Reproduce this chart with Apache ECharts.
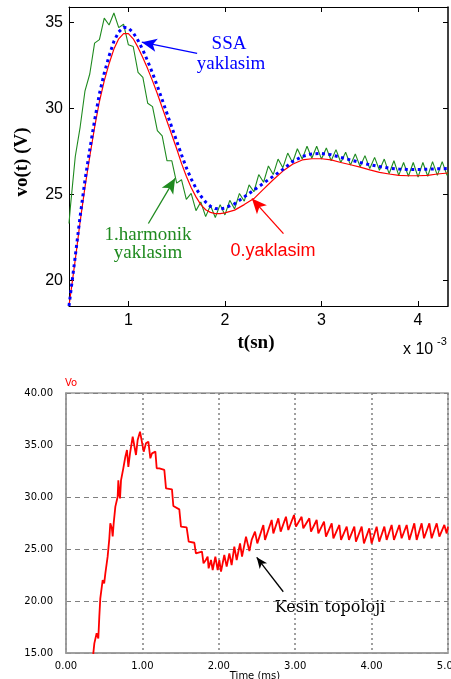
<!DOCTYPE html>
<html>
<head>
<meta charset="utf-8">
<script src="https://cdn.jsdelivr.net/npm/echarts@6/dist/echarts.min.js"></script>
<style>
html, body { margin: 0; padding: 0; background: #fff; }
#chart { width: 451px; height: 679px; }
</style>
</head>
<body>
<div id="chart"></div>
<script>
// ust grafik: zaman (x 10^-3 sn), kirmizi ve mavi ayni zaman noktalarinda okundu
const tOrtak = [0.385, 0.45, 0.50, 0.55, 0.60, 0.65, 0.70, 0.75, 0.80, 0.85, 0.90, 0.95, 1.00,
  1.05, 1.10, 1.15, 1.20, 1.25, 1.30, 1.35, 1.40, 1.45, 1.50, 1.55, 1.60, 1.65, 1.70, 1.75,
  1.80, 1.85, 1.90, 1.95, 2.00, 2.10, 2.20, 2.30, 2.40, 2.50, 2.60, 2.70, 2.80, 2.90, 3.00,
  3.10, 3.20, 3.30, 3.40, 3.50, 3.60, 3.70, 3.80, 3.90, 4.00, 4.10, 4.20, 4.31]

// 0.yaklasim (kirmizi)
const sifirYaklasim = [18.5, 21.2, 23.4, 25.4, 27.2, 28.9, 30.4, 31.6, 32.6, 33.45, 34.05, 34.35, 34.35,
  34.05, 33.55, 32.95, 32.3, 31.6, 30.85, 30.05, 29.25, 28.45, 27.65, 26.8, 26.05, 25.4, 24.85, 24.4,
  24.1, 23.95, 23.88, 23.88, 23.92, 24.08, 24.4, 24.75, 25.3, 25.85, 26.35, 26.75, 27.0, 27.07, 27.07,
  27.0, 26.85, 26.72, 26.58, 26.42, 26.28, 26.18, 26.1, 26.08, 26.08, 26.1, 26.18, 26.24]

// SSA yaklasim (mavi noktali)
const ssaYaklasim = [18.5, 21.4, 23.7, 25.8, 27.6, 29.3, 30.85, 32.05, 33.05, 33.9, 34.45, 34.72, 34.68,
  34.4, 33.95, 33.4, 32.75, 32.05, 31.3, 30.5, 29.7, 28.9, 28.1, 27.3, 26.55, 25.9, 25.35, 24.9,
  24.55, 24.3, 24.17, 24.15, 24.2, 24.45, 24.85, 25.25, 25.65, 26.05, 26.45, 26.9, 27.2, 27.35, 27.38,
  27.3, 27.15, 27.0, 26.85, 26.72, 26.62, 26.52, 26.47, 26.44, 26.44, 26.46, 26.48, 26.5]

// 1.harmonik yaklasim (yesil, dalgalanmali)
const harmonikYaklasim = [
  [0.385, 23.3], [0.40, 24.3], [0.45, 27.2], [0.50, 28.9], [0.55, 31.0], [0.60, 32.0], [0.65, 33.8],
  [0.70, 34.0], [0.75, 35.25], [0.80, 34.85], [0.85, 35.55], [0.90, 34.7], [0.95, 34.9], [1.00, 33.7],
  [1.05, 33.6], [1.10, 32.1], [1.15, 31.8], [1.20, 30.3], [1.25, 30.1], [1.30, 28.7], [1.35, 28.4],
  [1.40, 26.95], [1.45, 26.95], [1.50, 25.65], [1.55, 25.85], [1.60, 24.7], [1.65, 25.05], [1.70, 24.05],
  [1.75, 24.55], [1.80, 23.7], [1.85, 24.35], [1.90, 23.65], [1.95, 24.4], [2.00, 23.8], [2.05, 24.65],
  [2.10, 24.15], [2.15, 25.05], [2.20, 24.6], [2.25, 25.55], [2.30, 25.15], [2.35, 26.15], [2.40, 25.7],
  [2.45, 26.65], [2.50, 26.15], [2.55, 27.05], [2.60, 26.55], [2.65, 27.4], [2.70, 26.85], [2.75, 27.65],
  [2.80, 27.05], [2.85, 27.8], [2.90, 27.1], [2.95, 27.8], [3.00, 27.05], [3.05, 27.7], [3.10, 26.95],
  [3.15, 27.6], [3.20, 26.85], [3.25, 27.45], [3.30, 26.7], [3.35, 27.35], [3.40, 26.6], [3.45, 27.25],
  [3.50, 26.5], [3.55, 27.15], [3.60, 26.4], [3.65, 27.05], [3.70, 26.2], [3.75, 26.95], [3.80, 26.1],
  [3.85, 26.85], [3.90, 26.05], [3.95, 26.85], [4.00, 26.0], [4.05, 26.85], [4.10, 26.05], [4.15, 26.9],
  [4.20, 26.1], [4.25, 26.9], [4.30, 26.1], [4.31, 26.3]
]

// alt grafik: Kesin topoloji (PSIM), zaman ms
const kesinTopoloji = [
  [0.35, 14.0], [0.358, 15.0], [0.371, 15.93], [0.39, 15.77], [0.401, 16.9], [0.423, 16.4], [0.436, 18.5],
  [0.449, 20.26], [0.471, 20.4], [0.48, 22.0], [0.50, 21.7], [0.515, 22.66], [0.53, 22.5], [0.545, 24.26],
  [0.567, 26.0], [0.58, 27.47], [0.60, 27.0], [0.611, 26.2], [0.624, 27.47], [0.646, 29.07], [0.66, 29.0],
  [0.676, 30.03], [0.685, 31.6], [0.697, 30.3], [0.707, 29.87], [0.72, 31.6], [0.75, 32.76], [0.777, 33.88],
  [0.798, 34.52], [0.816, 32.9], [0.838, 34.2], [0.873, 35.8], [0.894, 35.96], [0.916, 34.04], [0.938, 35.48],
  [0.969, 36.28], [0.995, 36.28], [1.017, 34.36], [1.047, 35.16], [1.078, 35.32], [1.104, 33.72], [1.126, 34.2],
  [1.147, 34.36], [1.17, 34.36], [1.187, 32.76], [1.222, 32.76], [1.287, 32.6], [1.309, 30.83], [1.387, 30.74],
  [1.405, 29.13], [1.483, 28.81], [1.505, 27.15], [1.579, 27.08], [1.606, 25.7], [1.68, 25.6], [1.70, 24.58],
  [1.78, 24.74], [1.80, 23.62], [1.83, 23.94], [1.854, 24.26], [1.867, 23.14], [1.898, 23.94], [1.92, 22.98],
  [1.955, 24.26], [1.985, 22.98], [2.007, 23.94], [2.029, 22.82], [2.072, 24.42], [2.103, 23.3], [2.138, 24.58],
  [2.168, 23.46], [2.203, 25.22], [2.234, 23.94], [2.278, 25.54], [2.304, 24.26], [2.356, 26.19], [2.40, 24.8],
  [2.43, 25.87], [2.474, 26.67], [2.504, 25.54], [2.583, 27.3], [2.605, 25.87], [2.692, 27.79], [2.714, 26.5],
  [2.779, 27.95], [2.81, 26.67], [2.879, 28.1], [2.91, 26.83], [2.984, 28.27], [3.01, 27.15], [3.084, 28.1],
  [3.106, 26.99], [3.185, 27.95], [3.207, 26.67], [3.281, 27.79], [3.303, 26.5], [3.377, 27.63], [3.403, 26.19],
  [3.478, 27.47], [3.50, 26.03], [3.578, 27.31], [3.60, 25.87], [3.674, 27.15], [3.704, 25.87], [3.774, 27.15],
  [3.795, 25.7], [3.87, 27.15], [3.90, 25.54], [3.97, 26.99], [4.00, 25.54], [4.066, 27.15], [4.10, 25.7],
  [4.167, 27.15], [4.197, 25.87], [4.262, 27.31], [4.293, 25.87], [4.363, 27.31], [4.393, 26.03], [4.459, 27.31],
  [4.494, 25.87], [4.559, 27.47], [4.59, 25.87], [4.655, 27.47], [4.686, 26.03], [4.756, 27.47], [4.786, 26.03],
  [4.852, 27.47], [4.887, 26.19], [4.952, 27.31], [4.983, 26.5], [5.0, 27.15]
]

const ustXTikler = [1, 2, 3, 4]
const ustYTikler = [20, 25, 30, 35]

// ok uclari (veri koordinatinda): [kuyruk, uc]
const okSSA = [[1.712, 33.2], [1.139, 33.85]]
const okHarmonik = [[1.207, 23.3], [1.484, 25.93]]
const okSifir = [[2.606, 22.71], [2.279, 24.75]]
const okKesin = [[2.844, 20.89], [2.496, 24.2]]

const zip = (xs, ys) => xs.map((x, i) => [x, ys[i]])

const ok = (uclar, renk, boyut) => ({
  silent: true,
  animation: false,
  symbol: ['none', 'arrow'],
  symbolSize: boyut,
  label: { show: false },
  lineStyle: { color: renk, width: 1.3, type: 'solid' },
  data: [[{ coord: uclar[0] }, { coord: uclar[1] }]]
})

const siyah = '#000'
const ustEksenX = (pos, etiket) => ({
  gridIndex: 0,
  type: 'value',
  position: pos,
  min: 0.385,
  max: 4.31,
  axisLine: { show: true, onZero: false, lineStyle: { color: siyah, width: 1 } },
  axisTick: { show: true, inside: true, length: 5, customValues: ustXTikler, lineStyle: { color: siyah } },
  axisLabel: {
    show: etiket,
    customValues: ustXTikler,
    color: siyah,
    fontSize: 16,
    fontFamily: 'Liberation Sans',
    margin: 7
  },
  splitLine: { show: false }
})
const ustEksenY = (pos, etiket) => ({
  gridIndex: 0,
  type: 'value',
  position: pos,
  min: 18.5,
  max: 35.9,
  axisLine: { show: true, onZero: false, lineStyle: { color: siyah, width: pos === 'right' ? 1.5 : 1 } },
  axisTick: { show: true, inside: true, length: 5, customValues: ustYTikler, lineStyle: { color: siyah } },
  axisLabel: {
    show: etiket,
    customValues: ustYTikler,
    color: siyah,
    fontSize: 16,
    fontFamily: 'Liberation Sans',
    margin: 6
  },
  splitLine: { show: false }
})

const chart = echarts.init(document.getElementById('chart'), null, { renderer: 'canvas' })

chart.setOption({
  animation: false,
  backgroundColor: '#fff',
  grid: [
    { left: 69, top: 7, width: 379, height: 299, containLabel: false, outerBoundsMode: 'none' },
    { left: 66, top: 393, width: 382, height: 260, show: true, borderColor: '#9a9a9a', borderWidth: 1.5,
      containLabel: false, outerBoundsMode: 'none' }
  ],
  xAxis: [
    ustEksenX('bottom', true),
    ustEksenX('top', false),
    {
      gridIndex: 1,
      type: 'value',
      min: 0,
      max: 5,
      interval: 1,
      axisLine: { show: true, onZero: false, lineStyle: { color: '#9a9a9a', width: 1.5 } },
      axisTick: { show: false },
      axisLabel: {
        color: siyah,
        fontSize: 10,
        fontFamily: 'DejaVu Sans',
        margin: 8,
        formatter: (v) => v.toFixed(2)
      },
      splitLine: { show: true, lineStyle: { color: '#808080', type: [2, 3], width: 1.5 } }
    }
  ],
  yAxis: [
    ustEksenY('left', true),
    ustEksenY('right', false),
    {
      gridIndex: 1,
      type: 'value',
      min: 15,
      max: 40,
      interval: 5,
      axisLine: { show: true, onZero: false, lineStyle: { color: '#9a9a9a', width: 1.5 } },
      axisTick: { show: false },
      axisLabel: {
        color: siyah,
        fontSize: 10,
        fontFamily: 'DejaVu Sans',
        margin: 13,
        formatter: (v) => v.toFixed(2)
      },
      splitLine: { show: true, lineStyle: { color: '#808080', type: [5, 4], width: 1 } }
    }
  ],
  series: [
    {
      name: '1.harmonik yaklasim',
      type: 'line',
      xAxisIndex: 0,
      yAxisIndex: 0,
      data: harmonikYaklasim,
      symbol: 'none',
      lineStyle: { color: '#1f8a1f', width: 1.1 },
      markLine: ok(okHarmonik, '#1f8a1f', [10, 15])
    },
    {
      name: '0.yaklasim',
      type: 'line',
      xAxisIndex: 0,
      yAxisIndex: 0,
      data: zip(tOrtak, sifirYaklasim),
      symbol: 'none',
      lineStyle: { color: '#ff0000', width: 1.2 },
      markLine: ok(okSifir, '#ff0000', [10, 15])
    },
    {
      name: 'SSA yaklasim',
      type: 'line',
      xAxisIndex: 0,
      yAxisIndex: 0,
      data: zip(tOrtak, ssaYaklasim),
      symbol: 'none',
      lineStyle: { color: '#0000ff', width: 3, type: [3, 3.5], cap: 'butt' },
      markLine: ok(okSSA, '#0000ff', [10, 15])
    },
    {
      name: 'Kesin topoloji',
      type: 'line',
      xAxisIndex: 2,
      yAxisIndex: 2,
      data: kesinTopoloji,
      symbol: 'none',
      lineStyle: { color: '#ff0000', width: 1.8 },
      markLine: ok(okKesin, '#000', [7, 11])
    }
  ],
  graphic: [
    { type: 'text', x: 22, y: 162, rotation: Math.PI / 2,
      style: { text: 'vo(t) (V)', font: 'bold 19px "Liberation Serif"', fill: siyah, textAlign: 'center', textVerticalAlign: 'middle' } },
    { type: 'text', x: 256, y: 343,
      style: { text: 't(sn)', font: 'bold 19px "Liberation Serif"', fill: siyah, textAlign: 'center', textVerticalAlign: 'middle' } },
    { type: 'text', x: 403, y: 350,
      style: { text: 'x 10', font: '16px "Liberation Sans"', fill: siyah, textAlign: 'left', textVerticalAlign: 'middle' } },
    { type: 'text', x: 437, y: 342,
      style: { text: '-3', font: '11px "Liberation Sans"', fill: siyah, textAlign: 'left', textVerticalAlign: 'middle' } },
    { type: 'text', x: 229, y: 44,
      style: { text: 'SSA', font: '19px "Liberation Serif"', fill: '#0000ff', textAlign: 'center', textVerticalAlign: 'middle' } },
    { type: 'text', x: 231, y: 64,
      style: { text: 'yaklasim', font: '19px "Liberation Serif"', fill: '#0000ff', textAlign: 'center', textVerticalAlign: 'middle' } },
    { type: 'text', x: 148, y: 235,
      style: { text: '1.harmonik', font: '19px "Liberation Serif"', fill: '#1f8a1f', textAlign: 'center', textVerticalAlign: 'middle' } },
    { type: 'text', x: 148, y: 253,
      style: { text: 'yaklasim', font: '19px "Liberation Serif"', fill: '#1f8a1f', textAlign: 'center', textVerticalAlign: 'middle' } },
    { type: 'text', x: 273, y: 251,
      style: { text: '0.yaklasim', font: '18px "Liberation Sans"', fill: '#ff0000', textAlign: 'center', textVerticalAlign: 'middle' } },
    { type: 'text', x: 65, y: 383,
      style: { text: 'Vo', font: '10px "DejaVu Sans"', fill: '#ff0000', textAlign: 'left', textVerticalAlign: 'middle' } },
    { type: 'text', x: 255, y: 676,
      style: { text: 'Time (ms)', font: '10px "DejaVu Sans"', fill: siyah, textAlign: 'center', textVerticalAlign: 'middle' } },
    { type: 'text', x: 330, y: 608,
      style: { text: 'Kesin topoloji', font: '16px "DejaVu Serif"', fill: siyah, textAlign: 'center', textVerticalAlign: 'middle' } }
  ]
})
</script>
</body>
</html>
